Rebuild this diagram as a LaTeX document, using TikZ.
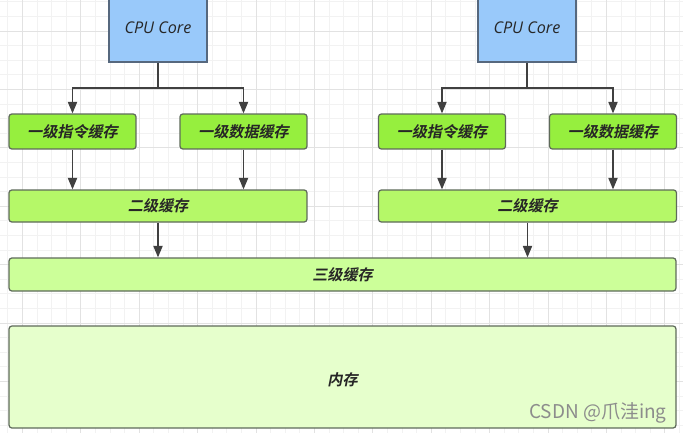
\documentclass[tikz,border=0pt]{standalone}
\usepackage{fontspec}
\usepackage{xcolor}
\usetikzlibrary{arrows.meta}

\newfontfamily\cjkbold{Noto Sans CJK SC Bold}[FakeSlant=0.2]
\newfontfamily\cjkplain{Noto Sans CJK SC}
\newfontfamily\corefont{Open Sans}

\definecolor{cpufill}{HTML}{99C9FA}
\definecolor{cpuline}{HTML}{56687E}
\definecolor{lonefill}{HTML}{96EF3E}
\definecolor{ltwofill}{HTML}{B5F868}
\definecolor{lthreefill}{HTML}{CCFF99}
\definecolor{memfill}{HTML}{E6FFCC}
\definecolor{boxline}{HTML}{5E6A5A}
\definecolor{wire}{HTML}{404040}
\definecolor{labeltext}{HTML}{262626}
\definecolor{gridminor}{HTML}{F2F2F2}
\definecolor{gridmajor}{HTML}{E2E2E2}

\begin{document}
\begin{tikzpicture}[x=0.02cm,y=-0.02cm]
		\tikzstyle{every node}+=[inner sep=0pt]
		\tikzstyle{box}=[draw=boxline, line width=0.7pt, rounded corners=1.6pt, text=labeltext, font=\cjkbold\fontsize{8.6}{10}\selectfont]
		\tikzstyle{cpubox}=[draw=cpuline, fill=cpufill, line width=0.7pt, minimum width=1.96cm, minimum height=1.36cm, text=labeltext, font=\corefont\itshape\fontsize{9.2}{11}\selectfont]
		\tikzstyle{lonebox}=[box, fill=lonefill, minimum width=2.54cm, minimum height=0.70cm]
		\tikzstyle{ltwobox}=[box, fill=ltwofill, minimum width=5.96cm, minimum height=0.64cm]
		\tikzstyle{lthreebox}=[box, fill=lthreefill, minimum width=13.34cm, minimum height=0.66cm]
		\tikzstyle{membox}=[box, fill=memfill, minimum width=13.34cm, minimum height=2.04cm]
		\tikzstyle{wireline}=[draw=wire, line width=0.75pt]
		\tikzstyle{feed}=[wireline, -{Triangle[length=6.5pt, width=5.2pt]}]
		\useasboundingbox (0,0) rectangle (683,433);
		\clip (0,0) rectangle (683,433);
		\fill [white] (0,0) rectangle (683,433);
		% background grid
		\foreach \i in {-2,...,46}
			\draw [gridminor, line width=0.4pt] (22.4+\i*14.6,0) -- (22.4+\i*14.6,433);
		\foreach \i in {-3,...,28}
			\draw [gridminor, line width=0.4pt] (0,31+\i*14.6) -- (683,31+\i*14.6);
		\foreach \i in {-1,...,11}
			\draw [gridmajor, line width=0.5pt] (22.4+\i*58.4,0) -- (22.4+\i*58.4,433);
		\foreach \i in {-1,...,7}
			\draw [gridmajor, line width=0.5pt] (0,31+\i*58.4) -- (683,31+\i*58.4);
		% cores
		\node [cpubox] (cpuA) at (158,28) {CPU Core};
		\node [cpubox] (cpuB) at (527,28) {CPU Core};
		% level 1
		\node [lonebox] (l1iA) at (72.5,131.5) {一级指令缓存};
		\node [lonebox] (l1dA) at (243.5,131.5) {一级数据缓存};
		\node [lonebox] (l1iB) at (442,131.5) {一级指令缓存};
		\node [lonebox] (l1dB) at (613,131.5) {一级数据缓存};
		% level 2 and 3, memory
		\node [ltwobox] (l2A) at (158,206) {二级缓存};
		\node [ltwobox] (l2B) at (527.5,206) {二级缓存};
		\node [lthreebox] (l3) at (342.5,274.5) {三级缓存};
		\node [membox] (mem) at (342.5,377) {};
		\node [text=labeltext, font=\cjkbold\fontsize{8.6}{10}\selectfont] (memlabel) at (342.5,380) {内存};
		\node [text=black!45, font=\cjkplain\fontsize{10.8}{12}\selectfont] (csdn) at (598,413) {CSDN @爪洼ing};
		% wires
		\coordinate (forkA) at (158,88);
		\coordinate (forkB) at (527,88);
		\draw [wireline] (cpuA.south) -- (forkA);
		\draw [feed] (forkA) -| (l1iA.north);
		\draw [feed] (forkA) -| (l1dA.north);
		\draw [wireline] (cpuB.south) -- (forkB);
		\draw [feed] (forkB) -| (l1iB.north);
		\draw [feed] (forkB) -| (l1dB.north);
		\draw [feed] (l1iA.south) -- (l1iA.south |- l2A.north);
		\draw [feed] (l1dA.south) -- (l1dA.south |- l2A.north);
		\draw [feed] (l1iB.south) -- (l1iB.south |- l2B.north);
		\draw [feed] (l1dB.south) -- (l1dB.south |- l2B.north);
		\draw [feed] (l2A.south) -- (l2A.south |- l3.north);
		\draw [feed] (l2B.south) -- (l2B.south |- l3.north);
	\end{tikzpicture}
\end{document}
